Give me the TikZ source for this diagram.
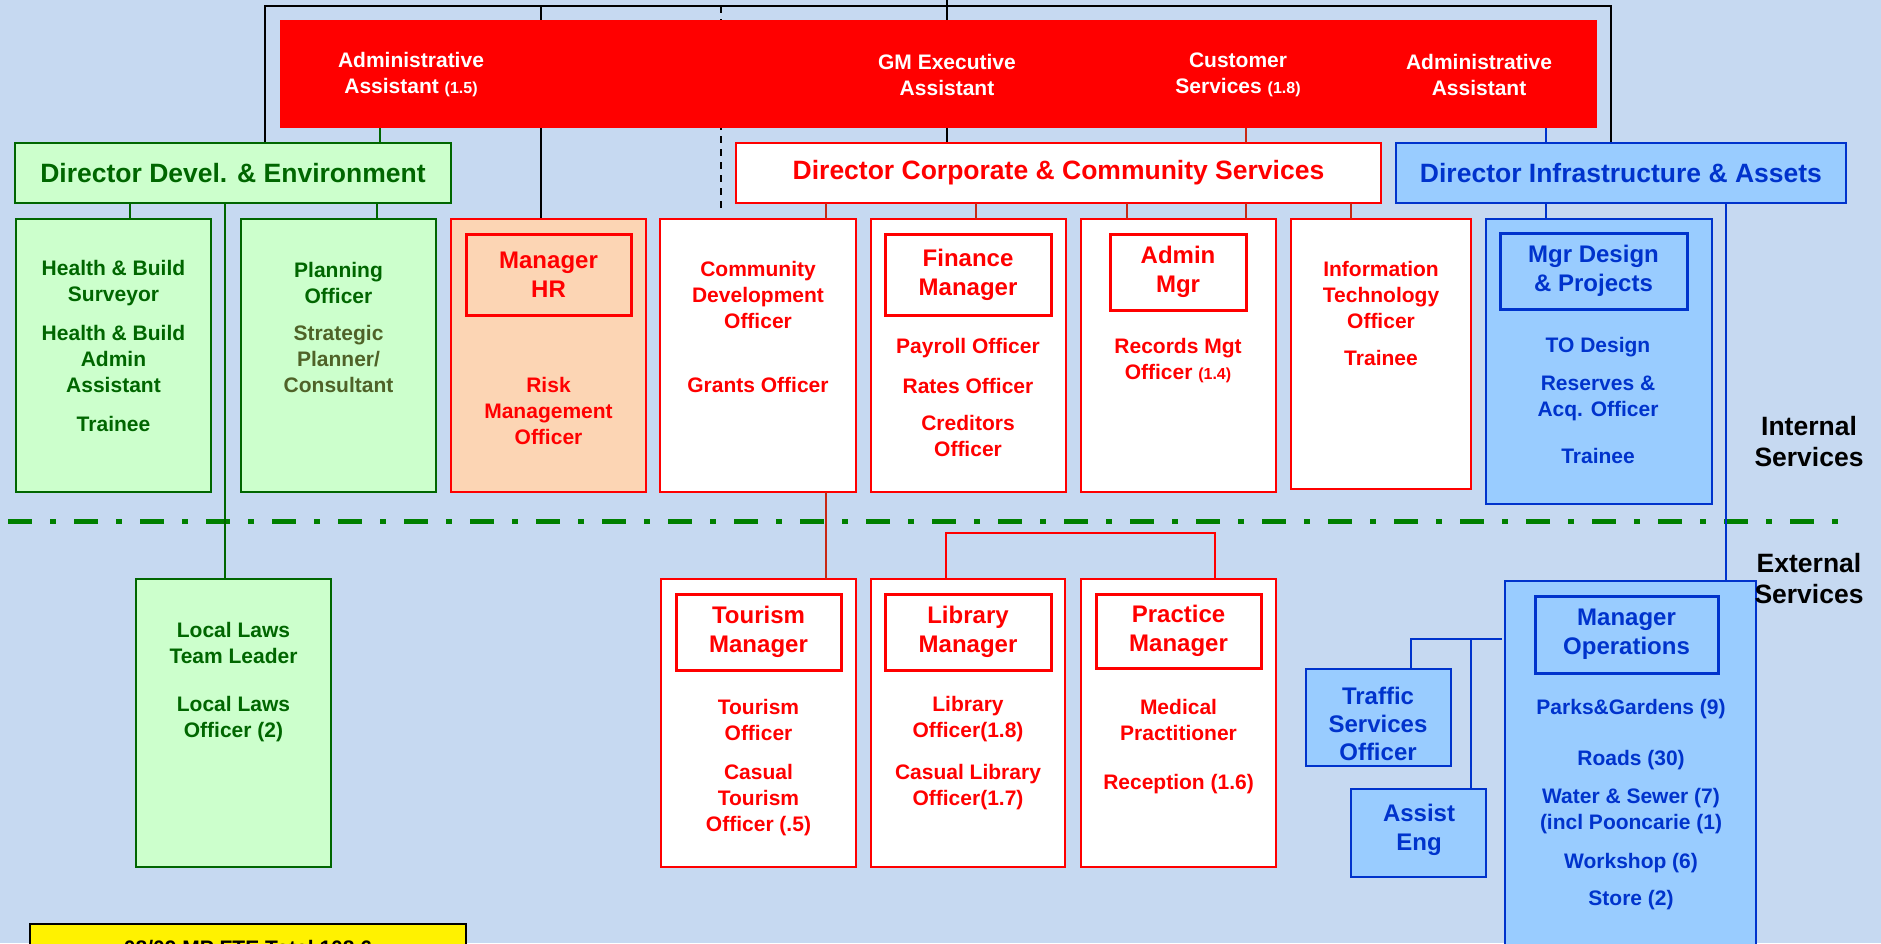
\documentclass[tikz,border=0pt]{standalone}
\usepackage{fontspec}
\setmainfont{Liberation Sans}
\usetikzlibrary{backgrounds}

\definecolor{bgblue}{RGB}{198,217,241}
\definecolor{dgreen}{RGB}{0,102,0}
\definecolor{lgreen}{RGB}{204,255,204}
\definecolor{olivetxt}{RGB}{79,98,40}
\definecolor{peach}{RGB}{252,213,180}
\definecolor{dblue}{RGB}{0,51,204}
\definecolor{lblue}{RGB}{153,204,255}
\definecolor{sepgreen}{RGB}{0,128,0}
\definecolor{darkred}{RGB}{200,40,20}

\tikzset{
	box/.style={rectangle,inner sep=0pt,outer sep=0pt,line width=2pt},
	redbar/.style={box,fill=red},
	gbox/.style={box,draw=dgreen,fill=lgreen},
	rbox/.style={box,draw=red,fill=white},
	pbox/.style={box,draw=red,fill=peach},
	bbox/.style={box,draw=dblue,fill=lblue},
	mbox/.style={box,draw=red,line width=3pt},
	mbbox/.style={box,draw=dblue,line width=3pt},
	ybox/.style={box,draw=black,fill=yellow},
	t/.style={align=center,inner sep=0pt,font=\bfseries\fontsize{21}{26}\selectfont},
	tm/.style={align=center,inner sep=0pt,font=\bfseries\fontsize{24}{29}\selectfont},
	th/.style={align=center,inner sep=0pt,font=\bfseries\fontsize{26.5}{31}\selectfont},
	kline/.style={line width=2pt,black},
	gline/.style={line width=2pt,dgreen},
	rline/.style={line width=2pt,darkred},
	bline/.style={line width=2pt,dblue},
	sepline/.style={line width=5pt,sepgreen,dash pattern=on 24pt off 18pt on 6pt off 18pt}
}

\newcommand{\orgbox}[6]{\node[#2,minimum width={(#5)-(#3)},minimum height={(#6)-(#4)}] (#1) at ({((#3)+(#5))/2},{((#4)+(#6))/2}) {};}

\begin{document}
\begin{tikzpicture}[x=1pt,y=-1pt]
	\useasboundingbox (0,0) rectangle (1881,943);
	
	\orgbox{top}{redbar}{280}{20}{1597}{128}
	\orgbox{devdir}{gbox}{15}{143}{451}{203}
	\orgbox{corpdir}{rbox}{736}{143}{1381}{203}
	\orgbox{infdir}{bbox}{1396}{143}{1846}{203}
	
	\orgbox{health}{gbox}{16}{219}{211}{492}
	\orgbox{plan}{gbox}{241}{219}{436}{492}
	\orgbox{hr}{pbox}{451}{219}{646}{492}
	\orgbox{hrm}{mbox}{466}{234}{631}{315}
	\orgbox{comm}{rbox}{660}{219}{856}{492}
	\orgbox{fin}{rbox}{871}{219}{1066}{492}
	\orgbox{finm}{mbox}{885}{234}{1051}{315}
	\orgbox{adm}{rbox}{1081}{219}{1276}{492}
	\orgbox{admm}{mbox}{1110}{234}{1246}{310}
	\orgbox{itbox}{rbox}{1291}{219}{1471}{489}
	\orgbox{des}{bbox}{1486}{219}{1712}{504}
	\orgbox{desm}{mbbox}{1500}{233}{1687}{309}
	
	\orgbox{laws}{gbox}{136}{579}{331}{867}
	\orgbox{tour}{rbox}{661}{579}{856}{867}
	\orgbox{tourm}{mbox}{676}{594}{841}{670}
	\orgbox{lib}{rbox}{871}{579}{1065}{867}
	\orgbox{libm}{mbox}{885}{594}{1051}{670}
	\orgbox{prac}{rbox}{1081}{579}{1276}{867}
	\orgbox{pracm}{mbox}{1096}{594}{1261}{668}
	\orgbox{ops}{bbox}{1505}{581}{1756}{965}
	\orgbox{opsm}{mbbox}{1535}{596}{1718}{673}
	\orgbox{traf}{bbox}{1306}{669}{1451}{766}
	\orgbox{eng}{bbox}{1351}{789}{1486}{877}
	\orgbox{total}{ybox}{30}{924}{466}{990}
	
	\coordinate (tl) at (265,6);
	\coordinate (tr) at (1611,6);
	\coordinate (gm) at (947,0);
	\begin{pgfonlayer}{background}
		\fill[bgblue] (0,0) rectangle (1881,943);
		\draw[kline] (tl |- devdir.north) -- (tl) -- (tr) -- (tr |- infdir.north);
		\draw[kline] (gm) -- (gm |- corpdir.north);
		\draw[kline] (541,0 |- tl) -- (541,0 |- hr.north);
		\draw[kline,line width=1.5pt,dash pattern=on 7pt off 6pt] (721,0 |- tl) -- (721,210);
	\end{pgfonlayer}
	
	\coordinate (sepl) at (8,521);
	\coordinate (sepr) at (1840,521);
	\draw[sepline] (sepl) -- (sepr);
	
	\foreach \x/\a/\b in {380/top/devdir,129.5/devdir/health,377/devdir/plan,225/devdir/laws}{
		\draw[gline] (\x,0 |- \a.south) -- (\x,0 |- \b.north);
	}
	\foreach \x/\a/\b in {1246/top/corpdir,826/corpdir/comm,976/corpdir/fin,1127/corpdir/adm,1246/corpdir/adm,1351/corpdir/itbox,826/comm/tour}{
		\draw[rline] (\x,0 |- \a.south) -- (\x,0 |- \b.north);
	}
	\coordinate (libj) at (1134,533);
	\draw[rline,red] (libj -| adm.south) -- (libj) (946,0 |- lib.north) |- (libj) -| (1215,0 |- prac.north);
	\foreach \x/\a/\b in {1546/top/infdir,1546/infdir/des,1726/infdir/ops}{
		\draw[bline] (\x,0 |- \a.south) -- (\x,0 |- \b.north);
	}
	\coordinate (opsj) at (1502,639);
	\draw[bline] (opsj) -| (1411,0 |- traf.north) (1471,0 |- opsj) -- (1471,0 |- eng.north);
	
	\path (411,75) node[t,white] (aa1) {Administrative\\Assistant {\fontsize{16}{26}\selectfont(1.5)}}
		(947,75) node[t,white] (gmea) {GM Executive\\Assistant}
		(1238,75) node[t,white] (cs) {Customer\\Services {\fontsize{16}{26}\selectfont(1.8)}}
		(1479,75) node[t,white] (aa2) {Administrative\\Assistant};
	
	\node[th,dgreen] (devdirt) at (devdir) {Director Devel. \& Environment};
	\node[th,red] (corpdirt) at (corpdir) {Director Corporate \& Community Services};
	\node[th,dblue] (infdirt) at (infdir) {Director Infrastructure \& Assets};
	
	\path (113.5,283) node[t,dgreen] (hb1) {Health \& Build\\Surveyor}
		(113.5,359) node[t,dgreen] (hb2) {Health \& Build\\Admin\\Assistant}
		(113.5,424) node[t,dgreen] (hb3) {Trainee}
		(338.5,283) node[t,dgreen] (pl1) {Planning\\Officer}
		(338.5,359) node[t,olivetxt] (pl2) {Strategic\\Planner/\\Consultant};
	\node[tm,red] (hrmt) at (hrm) {Manager\\HR};
	\node[t,red] (risk) at (548.5,411) {Risk\\Management\\Officer};
	
	\path (758,295) node[t,red] (cd1) {Community\\Development\\Officer}
		(758,385) node[t,red] (cd2) {Grants Officer};
	\node[tm,red] (finmt) at (finm) {Finance\\Manager};
	\path (968,348) node[t,red] (fi1) {Payroll Officer}
		(968,386) node[t,red] (fi2) {Rates Officer}
		(968,436) node[t,red] (fi3) {Creditors\\Officer};
	\node[tm,red] (admmt) at (admm) {Admin\\Mgr};
	\node[t,red] (ad1) at (1178,361) {Records Mgt\\Officer {\fontsize{16}{26}\selectfont(1.4)}};
	\path (1381,295) node[t,red] (it1) {Information\\Technology\\Officer}
		(1381,358) node[t,red] (it2) {Trainee};
	\node[tm,dblue] (desmt) at (desm) {Mgr Design\\\& Projects};
	\path (1598,347) node[t,dblue] (de1) {TO Design}
		(1598,398) node[t,dblue] (de2) {Reserves \&\\Acq. Officer}
		(1598,456) node[t,dblue] (de3) {Trainee};
	
	\path (1809,442) node[th] (intl) {Internal\\Services}
		(1809,579) node[th] (extl) {External\\Services};
	
	\path (233.5,642.5) node[t,dgreen] (ll1) {Local Laws\\Team Leader}
		(233.5,719.5) node[t,dgreen] (ll2) {Local Laws\\Officer (2)};
	\node[tm,red] (tourmt) at (tourm) {Tourism\\Manager};
	\path (758.5,719.5) node[t,red] (to1) {Tourism\\Officer}
		(758.5,800) node[t,red] (to2) {Casual\\Tourism\\Officer (.5)};
	\node[tm,red] (libmt) at (libm) {Library\\Manager};
	\path (968,719.5) node[t,red] (li1) {Library\\Officer(1.8)}
		(968,787) node[t,red] (li2) {Casual Library\\Officer(1.7)};
	\node[tm,red] (pracmt) at (pracm) {Practice\\Manager};
	\path (1178.5,719.5) node[t,red] (pr1) {Medical\\Practitioner}
		(1178.5,784) node[t,red] (pr2) {Reception (1.6)};
	\node[tm,dblue] (opsmt) at (opsm) {Manager\\Operations};
	\path (1631,709) node[t,dblue] (op1) {Parks\&Gardens (9)}
		(1631,760) node[t,dblue] (op2) {Roads (30)}
		(1631,811) node[t,dblue] (op3) {Water \& Sewer (7)\\(incl Pooncarie (1)}
		(1631,863) node[t,dblue] (op4) {Workshop (6)}
		(1631,900) node[t,dblue] (op5) {Store (2)};
	\node[tm,dblue,font=\bfseries\fontsize{24}{28}\selectfont] (traft) at (1378,724) {Traffic\\Services\\Officer};
	\node[tm,dblue] (engt) at (1419,830) {Assist\\Eng};
	\node[t,anchor=base] (totalt) at (248,955) {08/09 MP FTE Total 108.6};
\end{tikzpicture}
\end{document}
